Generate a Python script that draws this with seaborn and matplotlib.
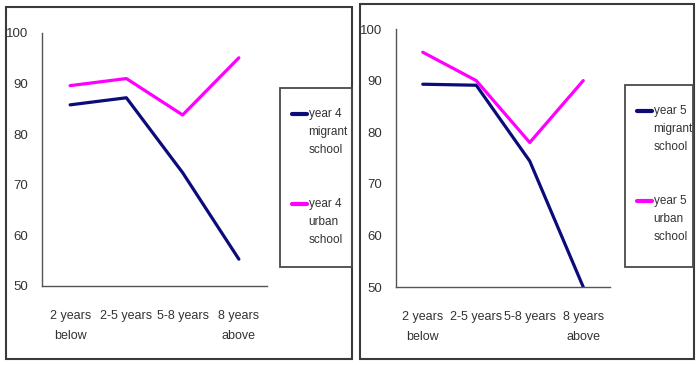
import pandas as pd
import seaborn as sns
import matplotlib.pyplot as plt
from matplotlib.patches import Rectangle
from matplotlib.lines import Line2D
from matplotlib.legend_handler import HandlerLine2D

# data
periods = ['2 years\nbelow', '2-5 years', '5-8 years', '8 years\nabove']
y4_migrant = [85.8, 87.2, 72.4, 55.3]
y4_urban = [89.6, 91.0, 83.8, 95.1]
y5_migrant = [89.3, 89.1, 74.4, 50.0]
y5_urban = [95.5, 90.0, 78.0, 90.0]

navy = '#0b0b7a'
pink = '#ff00ff'
LSP = 1.65  # line spacing inside legend labels


# legend key sits next to the first line of the label, not its middle
class TopLine(HandlerLine2D):
    def create_artists(self, legend, orig_handle, xdescent, ydescent, width, height, fontsize, trans):
        arts = super().create_artists(legend, orig_handle, xdescent, ydescent, width, height, fontsize, trans)
        for a in arts:
            a.set_ydata([v + fontsize * LSP * 0.95 for v in a.get_ydata()])
        return arts


sns.set_style('white')
plt.rcParams['font.family'] = ['Liberation Sans', 'DejaVu Sans']
plt.rcParams['text.color'] = '#333333'

fig = plt.figure(figsize=(7, 3.65), dpi=100)


def fbox(x0, y0, x1, y1, **kw):
    # rectangle given in pixels from the top-left corner
    fig.patches.append(Rectangle((x0/700, 1-y1/365), (x1-x0)/700, (y1-y0)/365,
                                 transform=fig.transFigure, fill=False, **kw))


# panel borders
fbox(6, 7, 352, 359, ec='#3a3a3a', lw=1.5)
fbox(360, 4, 694, 359, ec='#3a3a3a', lw=1.5)

panels = [
    ([42/700, 1-286/365, 225/700, 253/365], 'year 4', y4_migrant, y4_urban,
     (280, 88, 352, 267)),
    ([396/700, 1-287/365, 214/700, 258/365], 'year 5', y5_migrant, y5_urban,
     (625, 85, 693, 267)),
]

for rect, yr, mig, urb, lbox in panels:
    ax = fig.add_axes(rect)
    df = pd.DataFrame({
        'period': periods * 2,
        'score': mig + urb,
        'group': [yr + '\nmigrant\nschool'] * 4 + [yr + '\nurban\nschool'] * 4,
    })
    sns.lineplot(data=df, x='period', y='score', hue='group', sort=False,
                 palette=[navy, pink], lw=2.3, ax=ax)
    ax.set_xlim(-0.5, 3.5)
    ax.set_ylim(50, 100)
    ax.set_yticks(range(50, 101, 10))
    ax.set_xticks([-0.5, 0.5, 1.5, 2.5, 3.5], minor=True)
    ax.tick_params(axis='x', which='major', length=0, pad=17, labelsize=9, colors='#333333')
    ax.tick_params(axis='x', which='minor', length=4, direction='in', color='#555555')
    ax.tick_params(axis='y', length=3, direction='in', pad=10, labelsize=9.5, colors='#333333')
    for lab in ax.get_xticklabels():
        lab.set_linespacing(1.9)
    ax.set_xlabel('')
    ax.set_ylabel('')
    for s in ['top', 'right']:
        ax.spines[s].set_visible(False)
    for s in ['left', 'bottom']:
        ax.spines[s].set_color('#555555')
        ax.spines[s].set_linewidth(1.0)

    # legend box drawn separately so its padding can differ per side
    x0, y0, x1, y1 = lbox
    fbox(x0, y0, x1, y1, ec='#4a4a4a', lw=1.3)
    leg = ax.legend(title=None, loc='upper left',
                    bbox_to_anchor=((x0 + 12)/700, 1 - (y0 + 20)/365),
                    bbox_transform=fig.transFigure, frameon=False, fontsize=8.5,
                    handlelength=1.3, handletextpad=0.1, labelspacing=3.6,
                    borderaxespad=0, borderpad=0,
                    handler_map={Line2D: TopLine()})
    for t in leg.get_texts():
        t.set_linespacing(LSP)
    for line in leg.get_lines():
        line.set_linewidth(3)

fig.savefig('out.png', dpi=100)
